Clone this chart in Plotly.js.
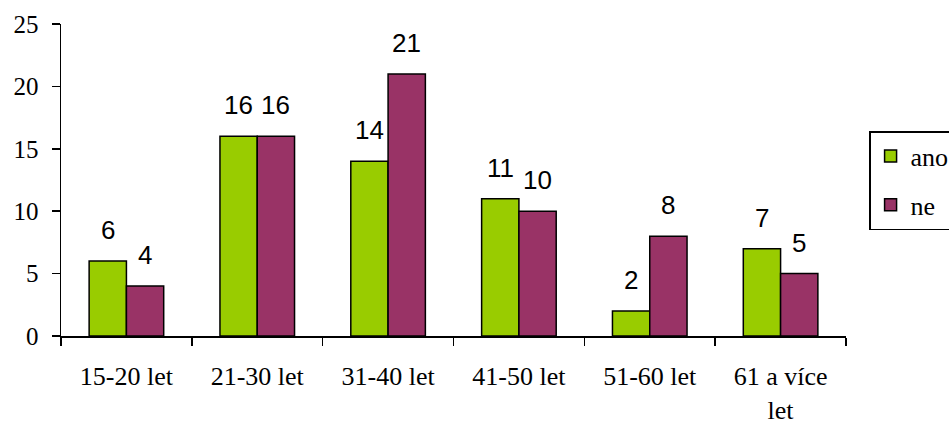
<!DOCTYPE html>
<html><head><meta charset="utf-8">
<script src="https://cdn.plot.ly/plotly-3.0.1.min.js"></script>
<style>html,body{margin:0;padding:0;background:#fff}#c{width:949px;height:427px}</style>
</head><body><div id="c"></div>
<script>
const categories = ["15-20 let","21-30 let","31-40 let","41-50 let","51-60 let","61 a více<br>let"];
const seriesNames = ["ano","ne"];
const ano = [6,16,14,11,2,7];
const ne = [4,16,21,10,8,5];
const yTicks = [0,5,10,15,20,25];

const colors = ["#99CC00","#993366"];
const serif = "Liberation Serif, Times New Roman, serif";
const sans = "Liberation Sans, Arial, sans-serif";

const series = [ano, ne];
const traces = series.map((vals,i)=>({
  type:"bar", name:seriesNames[i], x:categories, y:vals,
  legendgroup:"g"+i,
  marker:{color:colors[i], line:{color:"#000", width:1.5}},
  hoverinfo:"skip"
}));

const plotW = 949-61-103;
const bargap = 0.43;
const barPx = plotW/categories.length*(1-bargap)/2;
const annotations = [];
series.forEach((vals,i)=>{
  vals.forEach((v,j)=>{
    annotations.push({x:categories[j], y:v, xref:"x", yref:"y", text:String(v),
      showarrow:false, yanchor:"bottom", xshift:(i===0?-1:1)*barPx/2, yshift:14,
      font:{family:sans, size:26, color:"#000"}});
  });
});

const layout = {
  width:949, height:427,
  margin:{l:61, r:103, t:24, b:91, autoexpand:false},
  paper_bgcolor:"#fff", plot_bgcolor:"#fff",
  bargap:bargap, bargroupgap:0,
  showlegend:true,
  legend:{x:1.0294, xanchor:"left", y:0.657, yanchor:"top",
    bordercolor:"#000", borderwidth:1.5, bgcolor:"#fff",
    font:{family:serif, size:26, color:"#000"},
    traceorder:"grouped", tracegroupgap:12},
  xaxis:{type:"category", tickson:"boundaries", ticks:"outside", ticklen:8, tickwidth:1.5, tickcolor:"#000",
    showline:true, linecolor:"#000", linewidth:1.5, showgrid:false, zeroline:false,
    tickfont:{family:serif, size:26, color:"#000"}, ticklabelstandoff:16, fixedrange:true},
  yaxis:{range:[0,25], tickvals:yTicks, ticktext:yTicks.map(String), ticks:"outside", ticklen:8, tickwidth:1.5, tickcolor:"#000",
    showline:true, linecolor:"#000", linewidth:1.5, showgrid:false, zeroline:false,
    tickfont:{family:serif, size:25, color:"#000"}, ticklabelstandoff:8, fixedrange:true},
  annotations:annotations
};
Plotly.newPlot("c", traces, layout, {displayModeBar:false, staticPlot:true});
</script></body></html>
